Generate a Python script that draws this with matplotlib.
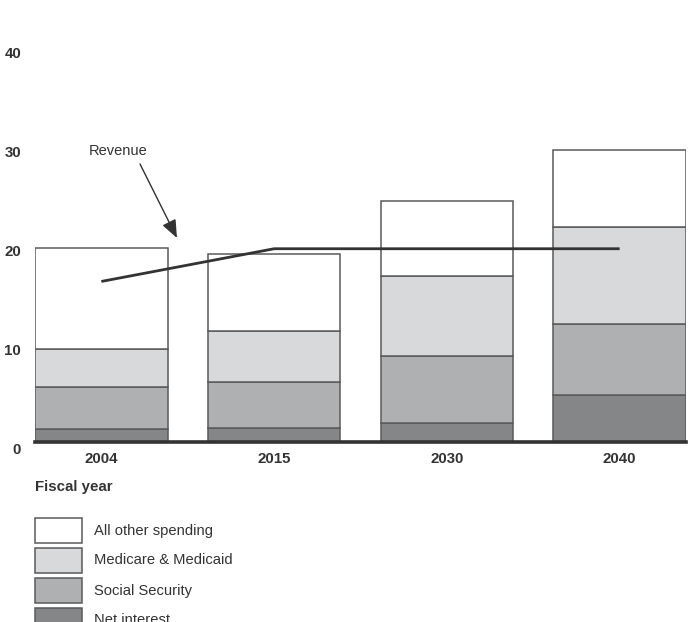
import matplotlib
matplotlib.use("Agg")
import matplotlib.pyplot as plt
from matplotlib.patches import Rectangle
from matplotlib.transforms import ScaledTranslation

plt.rcParams['font.family'] = ['Liberation Sans', 'DejaVu Sans']

years = ['2004', '2015', '2030', '2040']
net_interest = [1.3, 1.4, 1.95, 4.7]
social_security = [4.25, 4.65, 6.7, 7.25]
medicare_medicaid = [3.8, 5.2, 8.1, 9.7]
all_other = [10.2, 7.7, 7.6, 7.8]
revenue = [16.2, 19.5, 19.5, 19.5]
yticks = [0, 10, 20, 30, 40]

series = [
    ('Net interest', net_interest, '#858688'),
    ('Social Security', social_security, '#afb0b2'),
    ('Medicare & Medicaid', medicare_medicaid, '#d8d9db'),
    ('All other spending', all_other, '#ffffff'),
]

W, H = 693, 622
fig = plt.figure(figsize=(W / 100, H / 100), dpi=100)
ax = fig.add_axes([35 / W, (H - 442) / H, 651 / W, 400.4 / H])
ax.set_xlim(-0.384, 3.384)
ax.set_ylim(0, 40.4)

x = list(range(len(years)))
bottom = [0.0] * len(years)
for name, vals, col in series:
    ax.bar(x, vals, width=0.768, bottom=bottom, color=col,
           edgecolor='#5a5a5a', linewidth=1.1, zorder=2)
    bottom = [b + v for b, v in zip(bottom, vals)]

ax.plot(x, revenue, color='#333333', linewidth=2, zorder=4, solid_capstyle='butt')
ax.axhline(0, color='#333333', linewidth=2.6, zorder=5, clip_on=False)

for s in ax.spines.values():
    s.set_visible(False)
ax.set_yticks(yticks)
ax.set_yticklabels([str(t) for t in yticks], fontsize=10.8, fontweight='bold', color='#333333')
ax.tick_params(axis='y', length=0, pad=10)
for lab in ax.get_yticklabels():
    lab.set_transform(lab.get_transform() + ScaledTranslation(0, -7 / 100, fig.dpi_scale_trans))
ax.set_xticks(x)
ax.set_xticklabels(years, fontsize=10.8, fontweight='bold', color='#333333')
ax.tick_params(axis='x', length=0, pad=7)

def fx(px):
    return px / W

def fy(py):
    return 1 - py / H

# Revenue annotation
fig.text(fx(118), fy(151), 'Revenue', fontsize=10.5, color='#333333', ha='center', va='center')
ax.annotate('', xy=(fx(177), fy(238)), xycoords='figure fraction',
            xytext=(fx(140), fy(164)), textcoords='figure fraction',
            arrowprops=dict(arrowstyle='-|>,head_length=1.1,head_width=0.45',
                            color='#333333', lw=1.0, shrinkA=0, shrinkB=0))

fig.text(fx(35), fy(487), 'Fiscal year', fontsize=10.8, fontweight='bold', color='#333333',
         ha='left', va='center')

# Legend
leg_items = list(reversed(series))
for i, (name, vals, col) in enumerate(leg_items):
    top = 517.5 + i * 30
    fig.patches.append(Rectangle((fx(35), fy(top + 25)), fx(46.5), 25 / H,
                                 transform=fig.transFigure, facecolor=col,
                                 edgecolor='#5a5a5a', linewidth=1.1))
    fig.text(fx(94.5), fy(top + 13), name, fontsize=10.6, color='#333333',
             ha='left', va='center')

fig.savefig('out.png', dpi=100)
